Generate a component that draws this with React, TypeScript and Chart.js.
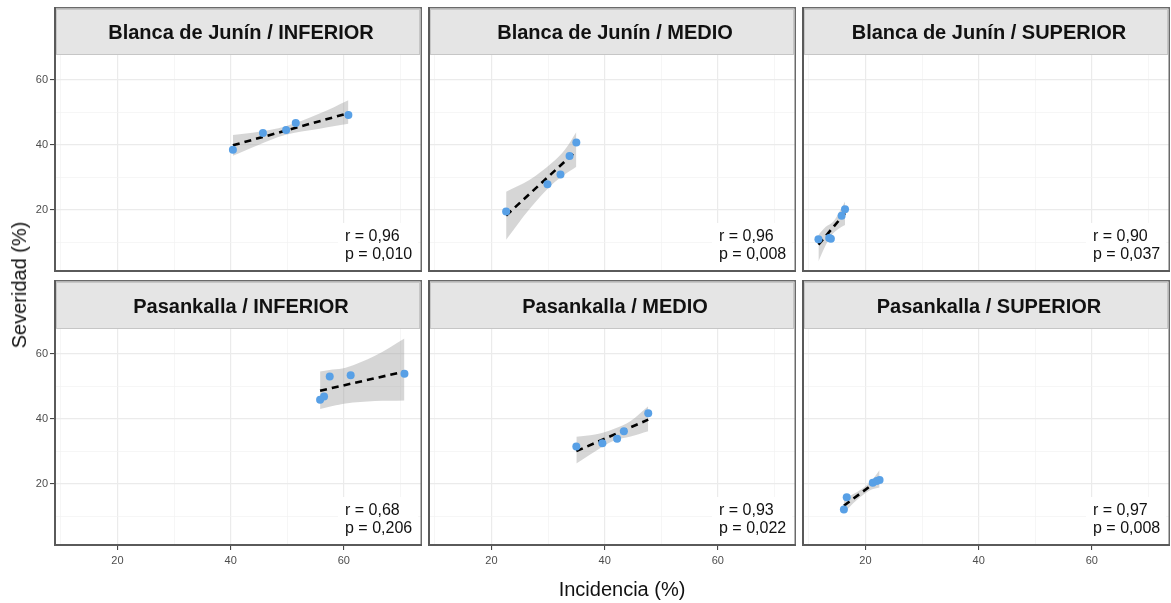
import React, { useEffect, useRef } from "react";
import { Chart, registerables } from "chart.js";

Chart.register(...registerables);

const FONT = "'Liberation Sans', Arial, Helvetica, sans-serif";

// ---------- panel titles & statistics ----------
const panelTitles = [
  "Blanca de Junín / INFERIOR",
  "Blanca de Junín / MEDIO",
  "Blanca de Junín / SUPERIOR",
  "Pasankalla / INFERIOR",
  "Pasankalla / MEDIO",
  "Pasankalla / SUPERIOR",
];
const rLabels = ["0,96", "0,96", "0,90", "0,68", "0,93", "0,97"];
const pLabels = ["0,010", "0,008", "0,037", "0,206", "0,022", "0,008"];

// ---------- axis ticks ----------
const xTickValues = [10, 20, 30, 40, 50, 60, 70];
const yTickValues = [10, 20, 30, 40, 50, 60];
const xLabelled = [20, 40, 60];
const yLabelled = [20, 40, 60];

// ---------- observed points (Incidencia %, Severidad %) ----------
const bjInfInc = [40.4, 45.7, 49.8, 51.5, 60.8];
const bjInfSev = [38.5, 43.7, 44.6, 46.8, 49.2];
const bjMedInc = [22.6, 29.9, 32.2, 33.8, 35.0];
const bjMedSev = [19.5, 27.9, 30.9, 36.6, 40.8];
const bjSupInc = [11.7, 13.6, 13.9, 15.8, 16.4];
const bjSupSev = [11.0, 11.4, 11.1, 18.2, 20.2];
const pkInfInc = [55.8, 56.5, 57.5, 61.2, 70.7];
const pkInfSev = [45.9, 46.9, 53.1, 53.5, 53.9];
const pkMedInc = [35.0, 39.6, 42.2, 43.4, 47.7];
const pkMedSev = [31.5, 32.5, 33.9, 36.2, 41.8];
const pkSupInc = [16.2, 16.7, 21.3, 22.0, 22.5];
const pkSupSev = [12.1, 15.9, 20.4, 20.9, 21.2];

// ---------- fitted lines (endpoints) ----------
const bjInfFitX = [40.4, 60.8];
const bjInfFitY = [39.9, 49.8];
const bjMedFitX = [22.6, 35.0];
const bjMedFitY = [18.3, 38.2];
const bjSupFitX = [11.7, 16.4];
const bjSupFitY = [9.3, 19.0];
const pkInfFitX = [55.8, 70.7];
const pkInfFitY = [48.7, 54.6];
const pkMedFitX = [35.0, 47.7];
const pkMedFitY = [30.1, 39.8];
const pkSupFitX = [16.2, 22.5];
const pkSupFitY = [13.3, 21.5];

// ---------- confidence bands ----------
const bjInfBandX = [40.4, 45.0, 49.6, 55.5, 60.8];
const bjInfBandLo = [36.7, 40.1, 43.1, 44.9, 46.5];
const bjInfBandHi = [43.1, 44.1, 45.7, 49.5, 53.8];
const bjMedBandX = [22.6, 26.7, 30.7, 33.0, 35.0];
const bjMedBandLo = [10.8, 20.2, 27.8, 31.0, 33.3];
const bjMedBandHi = [25.6, 29.2, 34.5, 38.6, 44.0];
const bjSupBandX = [11.7, 13.0, 14.3, 15.4, 16.4];
const bjSupBandLo = [4.1, 9.2, 12.8, 14.4, 15.4];
const bjSupBandHi = [12.3, 14.8, 16.4, 19.4, 22.6];
const pkInfBandX = [55.8, 58.0, 60.3, 65.5, 70.7];
const pkInfBandLo = [43.1, 44.0, 44.8, 45.5, 45.7];
const pkInfBandHi = [54.6, 55.2, 55.8, 59.5, 64.8];
const pkMedBandX = [35.0, 38.3, 41.6, 44.6, 47.7];
const pkMedBandLo = [26.3, 30.0, 33.3, 34.6, 36.2];
const pkMedBandHi = [34.5, 35.2, 36.9, 39.4, 43.9];
const pkSupBandX = [16.2, 17.8, 19.4, 21.0, 22.5];
const pkSupBandLo = [11.0, 14.0, 16.4, 18.2, 18.9];
const pkSupBandHi = [15.5, 16.8, 18.5, 20.8, 24.3];

const panels = [
  { inc: bjInfInc, sev: bjInfSev, fx: bjInfFitX, fy: bjInfFitY, bx: bjInfBandX, lo: bjInfBandLo, hi: bjInfBandHi },
  { inc: bjMedInc, sev: bjMedSev, fx: bjMedFitX, fy: bjMedFitY, bx: bjMedBandX, lo: bjMedBandLo, hi: bjMedBandHi },
  { inc: bjSupInc, sev: bjSupSev, fx: bjSupFitX, fy: bjSupFitY, bx: bjSupBandX, lo: bjSupBandLo, hi: bjSupBandHi },
  { inc: pkInfInc, sev: pkInfSev, fx: pkInfFitX, fy: pkInfFitY, bx: pkInfBandX, lo: pkInfBandLo, hi: pkInfBandHi },
  { inc: pkMedInc, sev: pkMedSev, fx: pkMedFitX, fy: pkMedFitY, bx: pkMedBandX, lo: pkMedBandLo, hi: pkMedBandHi },
  { inc: pkSupInc, sev: pkSupSev, fx: pkSupFitX, fy: pkSupFitY, bx: pkSupBandX, lo: pkSupBandLo, hi: pkSupBandHi },
];

// ---------- layout ----------
const PLOT_W = 368;
const PLOT_H = 217;
const COL_LEFT = [54, 428, 802];
const ROW_PLOT_TOP = [55, 329];
const ROW_CANVAS_TOP = [7, 280];
const Y_AXIS_W = 54;
const X_AXIS_H = 40;
const RIGHT_PAD = 2;

const facetPlugin = {
  id: "facet",
  beforeDraw(chart: any, _args: any, opts: any) {
    const { ctx, chartArea: a } = chart;
    ctx.save();
    ctx.fillStyle = "#ffffff";
    ctx.fillRect(a.left, a.top, a.right - a.left, a.bottom - a.top);
    // strip
    const sTop = 2;
    ctx.fillStyle = "#e5e5e5";
    ctx.fillRect(a.left + 2, sTop, a.right - a.left - 4, a.top - sTop);
    ctx.strokeStyle = "#c6c6c6";
    ctx.lineWidth = 1;
    ctx.strokeRect(a.left + 2.5, sTop + 0.5, a.right - a.left - 5, a.top - sTop - 1);
    ctx.fillStyle = "#111111";
    ctx.font = `bold 20px ${FONT}`;
    ctx.textAlign = "center";
    ctx.textBaseline = "middle";
    ctx.fillText(opts.title, (a.left + a.right) / 2 + 3, (sTop + a.top) / 2 + 1.5);
    ctx.restore();
  },
  afterDraw(chart: any, _args: any, opts: any) {
    const { ctx, chartArea: a } = chart;
    ctx.save();
    ctx.font = `16px ${FONT}`;
    const l1 = `r = ${opts.r}`;
    const l2 = `p = ${opts.p}`;
    const tx = a.right - 77;
    const y1 = a.bottom - 35;
    const y2 = a.bottom - 17;
    const w = Math.max(ctx.measureText(l1).width, ctx.measureText(l2).width);
    ctx.fillStyle = "#ffffff";
    ctx.fillRect(tx - 7, y1 - 14, w + 13, a.bottom - 1.5 - (y1 - 14));
    ctx.fillStyle = "#111111";
    ctx.textAlign = "left";
    ctx.textBaseline = "middle";
    ctx.fillText(l1, tx, y1);
    ctx.fillText(l2, tx, y2);
    // panel border (including strip)
    ctx.strokeStyle = "#6a6a6a";
    ctx.lineWidth = 1.5;
    ctx.strokeRect(a.left + 0.75, 0.75, a.right - a.left - 1.5, a.bottom - 1.5);
    // slightly heavier left and bottom edges
    ctx.strokeStyle = "#5a5a5a";
    ctx.lineWidth = 2;
    ctx.beginPath();
    ctx.moveTo(a.left + 1, 0);
    ctx.lineTo(a.left + 1, a.bottom - 1);
    ctx.lineTo(a.right, a.bottom - 1);
    ctx.stroke();
    ctx.restore();
  },
};

function Panel({ idx }: { idx: number }) {
  const ref = useRef<HTMLCanvasElement | null>(null);
  const row = Math.floor(idx / 3);
  const col = idx % 3;
  const L = col === 0 ? Y_AXIS_W : 0;
  const B = row === 1 ? X_AXIS_H : 0;
  const T = ROW_PLOT_TOP[row] - ROW_CANVAS_TOP[row];
  const width = L + PLOT_W + RIGHT_PAD;
  const height = T + PLOT_H + B;
  const left = COL_LEFT[col] - L;
  const top = ROW_CANVAS_TOP[row];

  useEffect(() => {
    if (!ref.current) return;
    const p = panels[idx];
    const isMajor = (v: number) => Math.round(v) % 20 === 0;
    const gridCommon = (drawTicks: boolean) => ({
      color: (c: any) => (c.tick && isMajor(c.tick.value) ? "#ebebeb" : "#f2f2f2"),
      lineWidth: (c: any) => (c.tick && isMajor(c.tick.value) ? 1.2 : 0.7),
      drawTicks,
      tickLength: 4,
      tickWidth: 1,
      tickColor: (c: any) => (c.tick && isMajor(c.tick.value) ? "#333333" : "rgba(0,0,0,0)"),
    });
    const noPad = (s: any) => {
      s.paddingTop = 0;
      s.paddingBottom = 0;
      s.paddingLeft = 0;
      s.paddingRight = 0;
    };
    const chart = new Chart(ref.current, {
      type: "scatter",
      data: {
        datasets: [
          {
            label: "obs",
            data: p.inc.map((x, i) => ({ x, y: p.sev[i] })),
            backgroundColor: "#58a0e6",
            borderWidth: 0,
            pointRadius: 4,
            order: 0,
          },
          {
            label: "fit",
            data: p.fx.map((x, i) => ({ x, y: p.fy[i] })),
            showLine: true,
            borderColor: "#000000",
            borderWidth: 2.6,
            borderDash: [7, 5],
            pointRadius: 0,
            fill: false,
            order: 1,
          },
          {
            label: "lo",
            data: p.bx.map((x, i) => ({ x, y: p.lo[i] })),
            showLine: true,
            borderWidth: 0,
            borderColor: "rgba(0,0,0,0)",
            pointRadius: 0,
            tension: 0.35,
            fill: false,
            order: 3,
          },
          {
            label: "hi",
            data: p.bx.map((x, i) => ({ x, y: p.hi[i] })),
            showLine: true,
            borderWidth: 0,
            borderColor: "rgba(0,0,0,0)",
            backgroundColor: "rgba(153,153,153,0.4)",
            pointRadius: 0,
            tension: 0.35,
            fill: "-1",
            order: 2,
          },
        ],
      },
      options: {
        animation: false,
        responsive: false,
        devicePixelRatio: 1,
        events: [],
        layout: { autoPadding: false, padding: { top: T, right: RIGHT_PAD, left: 0, bottom: 0 } },
        plugins: {
          legend: { display: false },
          tooltip: { enabled: false },
          facet: { title: panelTitles[idx], r: rLabels[idx], p: pLabels[idx] },
        } as any,
        scales: {
          x: {
            type: "linear",
            min: 8.8,
            max: 73.8,
            afterBuildTicks: (s: any) => {
              s.ticks = xTickValues.map((v) => ({ value: v }));
            },
            afterFit: (s: any) => {
              s.height = B;
              noPad(s);
            },
            ticks: {
              display: row === 1,
              autoSkip: false,
              maxRotation: 0,
              padding: 4,
              color: "#4d4d4d",
              font: { family: FONT, size: 11 },
              callback: (v: any) => (xLabelled.includes(Math.round(v)) ? String(Math.round(v)) : ""),
            },
            grid: gridCommon(row === 1),
            border: { display: false },
          },
          y: {
            type: "linear",
            min: 0.9,
            max: 67.7,
            afterBuildTicks: (s: any) => {
              s.ticks = yTickValues.map((v) => ({ value: v }));
            },
            afterFit: (s: any) => {
              s.width = L;
              noPad(s);
            },
            ticks: {
              display: col === 0,
              autoSkip: false,
              padding: 2,
              color: "#4d4d4d",
              font: { family: FONT, size: 11 },
              callback: (v: any) => (yLabelled.includes(Math.round(v)) ? String(Math.round(v)) : ""),
            },
            grid: gridCommon(col === 0),
            border: { display: false },
          },
        },
      } as any,
      plugins: [facetPlugin as any],
    });
    return () => chart.destroy();
  }, [idx]);

  return (
    <canvas
      ref={ref}
      width={width}
      height={height}
      style={{ position: "absolute", left, top, width, height }}
    />
  );
}

export default function App() {
  return (
    <div
      style={{
        position: "absolute",
        left: 0,
        top: 0,
        width: 1171,
        height: 603,
        background: "#ffffff",
        overflow: "hidden",
        fontFamily: FONT,
      }}
    >
      {panels.map((_, i) => (
        <Panel key={i} idx={i} />
      ))}
      <div
        style={{
          position: "absolute",
          left: 19,
          top: 285,
          transform: "translate(-50%, -50%) rotate(-90deg)",
          fontSize: 20,
          whiteSpace: "nowrap",
          color: "#111",
          lineHeight: "24px",
        }}
      >
        Severidad (%)
      </div>
      <div
        style={{
          position: "absolute",
          left: 622,
          top: 589,
          transform: "translate(-50%, -50%)",
          fontSize: 20,
          whiteSpace: "nowrap",
          color: "#111",
          lineHeight: "24px",
        }}
      >
        Incidencia (%)
      </div>
    </div>
  );
}
